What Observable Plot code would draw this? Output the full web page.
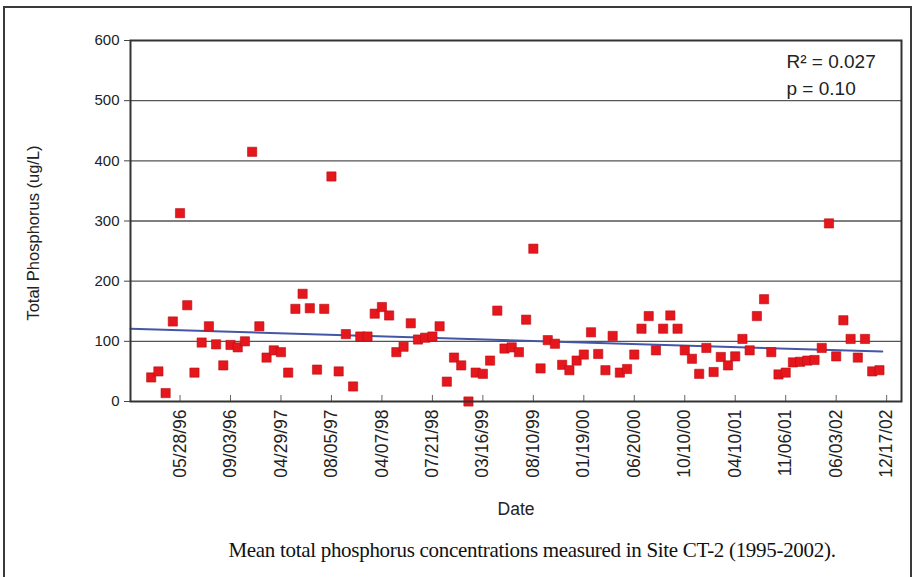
<!DOCTYPE html>
<html>
<head>
<meta charset="utf-8">
<script src="https://cdn.jsdelivr.net/npm/d3@7"></script>
<script src="https://cdn.jsdelivr.net/npm/@observablehq/plot@0.6"></script>
<style>
  html, body { margin: 0; padding: 0; background: #fff; }
  #wrap { position: relative; width: 916px; height: 577px; overflow: hidden; background: #fff; }
  #chart { position: absolute; left: 0; top: 0; }
  #border { position: absolute; left: 3px; top: 6px; width: 909px; height: 620px; border: 2px solid #3a3a3a; box-sizing: border-box; pointer-events: none; }
  #caption { position: absolute; left: 0; width: 1064px; top: 538px; text-align: center; font-family: "Liberation Serif", "Times New Roman", serif; font-size: 21px; color: #111; letter-spacing: -0.3px; }
</style>
</head>
<body>
<div id="wrap">
  <div id="chart"></div>
  <div id="border"></div>
  <div id="caption">Mean total phosphorus concentrations measured in Site CT-2 (1995-2002).</div>
</div>
<script>
// Total phosphorus (ug/L), one value per sample, in sampling order
const phosphorus = [
  40, 50, 14, 133, 313, 160, 48, 98, 125, 95,
  60, 94, 90, 100, 415, 125, 73, 85, 82, 48,
  154, 179, 155, 53, 154, 374, 50, 112, 25, 108,
  108, 146, 157, 143, 82, 91, 130, 103, 106, 108,
  125, 33, 73, 60, 0, 48, 46, 68, 151, 88,
  90, 82, 136, 254, 55, 102, 96, 61, 52, 68,
  78, 115, 79, 52, 109, 48, 54, 78, 121, 142,
  85, 121, 143, 121, 85, 71, 46, 89, 49, 74,
  60, 75, 104, 85, 142, 170, 82, 45, 48, 65,
  66, 68, 69, 89, 296, 75, 135, 104, 73, 104,
  50, 52
];

// Category-axis tick labels and the sample index each one sits at
const tickLabels = ["05/28/96", "09/03/96", "04/29/97", "08/05/97", "04/07/98", "07/21/98", "03/16/99",
  "08/10/99", "01/19/00", "06/20/00", "10/10/00", "04/10/01", "11/06/01", "06/03/02", "12/17/02"];
const tickIndex = [4, 11, 18, 25, 32, 39, 46, 53, 60, 67, 74, 81, 88, 95, 102];

// Linear trend line end points (index, value)
const trendIndex = [-2.87, 101.4];
const trendValue = [121, 83];

const yTicks = [0, 100, 200, 300, 400, 500, 600];
const statsText = "R² = 0.027\np = 0.10";

const points = phosphorus.map((v, i) => ({i, v}));
const trend = trendIndex.map((i, k) => ({i, v: trendValue[k]}));
const labelOf = new Map(tickIndex.map((t, k) => [t, tickLabels[k]]));

const chart = Plot.plot({
  width: 916,
  height: 527,
  marginLeft: 130,
  marginRight: 15,
  marginTop: 40,
  marginBottom: 126,
  style: {fontFamily: "'Liberation Sans', Arial, sans-serif", fontSize: "14px", color: "#222", background: "transparent", overflow: "visible"},
  x: {type: "linear", domain: [-2.87, 104.06]},
  y: {domain: [0, 600]},
  marks: [
    Plot.gridY(yTicks.filter(t => t > 0 && t < 600), {stroke: "#555", strokeOpacity: 1, strokeWidth: 1.3}),
    Plot.ruleX(tickIndex, {x: d => d, y1: 0, y2: 10, stroke: "#666", strokeWidth: 1}),
    Plot.axisY({ticks: yTicks, tickSize: 6, tickPadding: 5, fontSize: 15, label: null, stroke: "#444"}),
    Plot.axisX({ticks: tickIndex, tickFormat: d => labelOf.get(d), tickRotate: -90, tickSize: 0, tickPadding: 8, fontSize: 17.5,
      label: "Date", labelAnchor: "center", labelArrow: "none", labelOffset: 113}),
    Plot.text(["Total Phosphorus (ug/L)"], {frameAnchor: "left", rotate: -90, textAnchor: "middle", dx: -97, dy: 12, fontSize: 16.5, fill: "#222"}),
    Plot.line(trend, {x: "i", y: "v", stroke: "#4456a6", strokeWidth: 2}),
    Plot.dot(points, {x: "i", y: "v", symbol: "square", r: 5.2, fill: "#e5161c", stroke: "#b80f14", strokeWidth: 0.6}),
    Plot.text([statsText], {frameAnchor: "top-right", textAnchor: "start", lineAnchor: "top", dx: -115, dy: 8, fontSize: 19, lineHeight: 1.42, fill: "#222"}),
    Plot.frame({stroke: "#333", strokeWidth: 2})
  ]
});
document.getElementById("chart").appendChild(chart);
</script>
</body>
</html>
